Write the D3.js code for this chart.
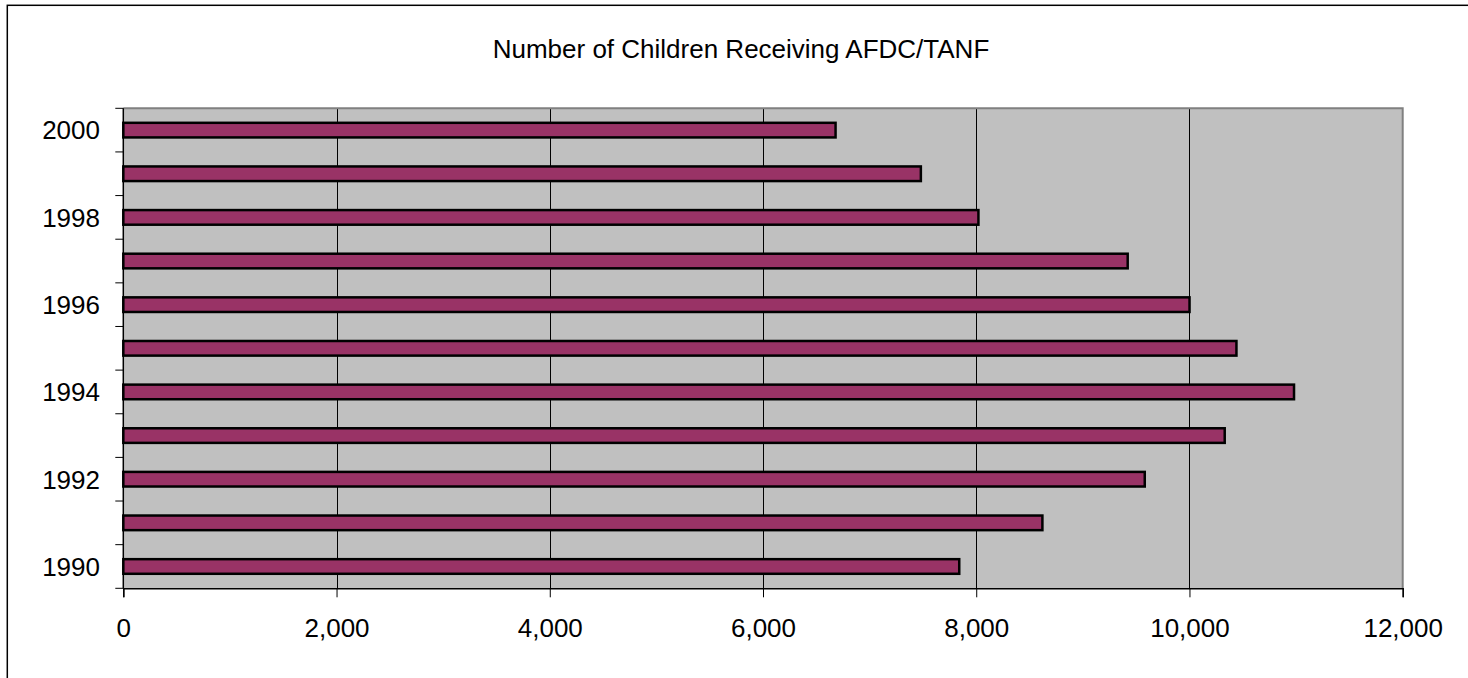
<!DOCTYPE html>
<html>
<head>
<meta charset="utf-8">
<script src="https://cdn.jsdelivr.net/npm/d3@7"></script>
<style>
  html, body { margin: 0; padding: 0; background: #fff; }
  svg { display: block; font-family: "Liberation Sans", Arial, sans-serif; }
</style>
</head>
<body>
<svg id="chart" width="1468" height="678"></svg>
<script>
// ---- data ----
const years = ["1990","1991","1992","1993","1994","1995","1996","1997","1998","1999","2000"];
const children = [7850, 8630, 9590, 10340, 10990, 10450, 10010, 9430, 8030, 7490, 6690];
const yearLabels = ["1990","","1992","","1994","","1996","","1998","","2000"];
const xTicks = [0, 2000, 4000, 6000, 8000, 10000, 12000];
const titleText = "Number of Children Receiving AFDC/TANF";

// ---- layout ----
const svg = d3.select("#chart");
const plot = { left: 123.3, right: 1402.7, top: 108.3, bottom: 588.3 };

const x = d3.scaleLinear().domain([0, 12000]).range([plot.left, plot.right]);
const y = d3.scaleBand().domain(years.slice().reverse()).range([plot.top, plot.bottom]).padding(0);
const barFrac = 0.335;

// outer chart border
svg.append("rect")
  .attr("x", 7.3).attr("y", 5.3).attr("width", 1500).attr("height", 700)
  .attr("fill", "#fff").attr("stroke", "#000").attr("stroke-width", 1.5);

// title
svg.append("text")
  .attr("x", 741).attr("y", 57.7)
  .attr("text-anchor", "middle")
  .attr("font-size", 26)
  .attr("fill", "#000")
  .text(titleText);

// plot background
svg.append("rect")
  .attr("x", plot.left).attr("y", plot.top)
  .attr("width", plot.right - plot.left).attr("height", plot.bottom - plot.top)
  .attr("fill", "#c0c0c0");

// gridlines
svg.append("g").selectAll("line")
  .data(xTicks.filter(t => t > 0 && t < 12000))
  .join("line")
  .attr("x1", d => Math.round(x(d)) + 0.5).attr("x2", d => Math.round(x(d)) + 0.5)
  .attr("y1", plot.top).attr("y2", plot.bottom)
  .attr("stroke", "#000").attr("stroke-width", 1);

// plot border top/right (gray)
svg.append("path")
  .attr("d", `M${plot.left},${plot.top}H${plot.right}V${plot.bottom}`)
  .attr("fill", "none").attr("stroke", "#808080").attr("stroke-width", 2);

// bars
const data = years.map((yr, i) => ({ year: yr, value: children[i] }));
svg.append("g").selectAll("rect")
  .data(data)
  .join("rect")
  .attr("x", x(0))
  .attr("y", d => y(d.year) + y.bandwidth() * (1 - barFrac) / 2)
  .attr("width", d => x(d.value) - x(0) - 1)
  .attr("height", y.bandwidth() * barFrac)
  .attr("fill", "#993366")
  .attr("stroke", "#000")
  .attr("stroke-width", 2.5);

// x axis
const xAxis = d3.axisBottom(x)
  .tickValues(xTicks)
  .tickSize(9)
  .tickPadding(21)
  .tickFormat(d3.format(","));
const gx = svg.append("g")
  .attr("transform", `translate(0,${plot.bottom})`)
  .call(xAxis);
gx.select(".domain").attr("stroke", "#000").attr("stroke-width", 1.5);
gx.selectAll(".tick line").attr("stroke", "#000").attr("stroke-width", 1);
gx.selectAll(".tick text")
  .attr("font-size", 26).attr("fill", "#000")
  .attr("font-family", "'Liberation Sans', Arial, sans-serif");

// y axis: ticks at band boundaries
const boundaries = d3.range(years.length + 1).map(i => plot.top + i * y.step());
svg.append("g").selectAll("line")
  .data(boundaries)
  .join("line")
  .attr("x1", plot.left - 8).attr("x2", plot.left)
  .attr("y1", d => d).attr("y2", d => d)
  .attr("stroke", "#000").attr("stroke-width", 1);
svg.append("line")
  .attr("x1", plot.left).attr("x2", plot.left)
  .attr("y1", plot.top).attr("y2", plot.bottom)
  .attr("stroke", "#000").attr("stroke-width", 1.5);

svg.append("g").selectAll("text")
  .data(years.map((yr, i) => ({ year: yr, label: yearLabels[i] })))
  .join("text")
  .attr("x", 100)
  .attr("y", d => y(d.year) + y.bandwidth() / 2)
  .attr("dy", "0.36em")
  .attr("text-anchor", "end")
  .attr("font-size", 26)
  .attr("fill", "#000")
  .text(d => d.label);
</script>
</body>
</html>
